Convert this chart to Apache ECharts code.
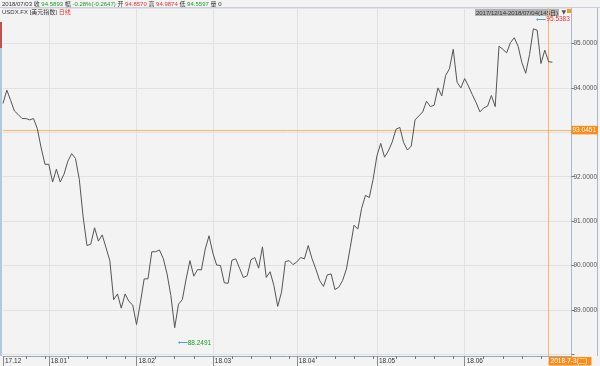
<!DOCTYPE html>
<html><head><meta charset="utf-8">
<script src="https://cdn.jsdelivr.net/npm/echarts@6/dist/echarts.min.js"></script>
<style>html,body{margin:0;padding:0;background:#f3f3f3}#c{width:600px;height:366px}</style>
</head><body><div id="c"></div>
<script>
// ---- data ----
const firstDate = '2017-12-14';
const tradingDays = 145;      // 2017/12/14-2018/07/04 (145日)
const paddingDays = 5;        // empty slots right of the last bar
const closes = [
  93.65, 93.95, 93.72, 93.48, 93.40, 93.31, 93.31, 93.28, 93.31, 93.08,
  92.65, 92.28, 92.28, 91.88, 92.17, 91.88, 92.06, 92.35, 92.52, 92.41,
  91.94, 91.10, 90.45, 90.48, 90.85, 90.55, 90.69, 90.40, 90.11, 89.23,
  89.36, 89.04, 89.36, 89.19, 89.11, 88.67, 89.16, 89.70, 89.70, 90.31,
  90.31, 90.35, 90.16, 89.81, 89.32, 88.60, 89.13, 89.23, 89.70, 90.11,
  89.76, 89.91, 89.90, 90.37, 90.67, 90.28, 90.01, 90.00, 89.61, 89.60,
  90.12, 90.15, 89.94, 89.73, 89.77, 90.13, 90.18, 89.94, 90.42, 89.73,
  89.86, 89.55, 89.08, 89.40, 90.09, 90.11, 90.02, 90.08, 90.18, 90.15,
  90.45, 90.15, 89.92, 89.66, 89.53, 89.79, 89.81, 89.46, 89.51, 89.66,
  89.92, 90.40, 90.91, 90.82, 91.29, 91.58, 91.53, 91.94, 92.47, 92.75,
  92.44, 92.58, 92.78, 93.07, 93.11, 92.77, 92.60, 92.69, 93.28, 93.37,
  93.46, 93.70, 93.58, 93.61, 94.00, 93.82, 94.28, 94.43, 94.87, 94.13,
  94.00, 94.21, 94.04, 93.85, 93.67, 93.46, 93.55, 93.59, 93.83, 93.58,
  94.94, 94.87, 94.79, 95.02, 95.13, 94.94, 94.57, 94.33, 94.75, 95.33,
  95.30, 94.55, 94.85, 94.59, 94.58
];
const monthLabels = ['17.12','18.01','18.02','18.03','18.04','18.05','18.06'];
const yLabelValues = [89, 90, 91, 92, 93, 94, 95];
const refLevel = 93.0451;
const highValue = 95.5383, highIndex = 139;
const lowValue = 88.2491, lowIndex = 45;
const selectedIndex = 143, selectedLabel = '2018-7-3(二)';
const yMin = 87.962, yMax = 95.80;
const header = {date:'2018/07/03', close:'94.5893', chg:'-0.28%(-0.2647)', open:'94.8570', high:'94.9874', low:'94.5597', vol:'0'};
const symbolName = 'USDX.FX [美元指数]', period = '日线';
const rangeText = '2017/12/14-2018/07/04(145日)';

// ---- build categories (weekdays) ----
const dates = [];
{
  let d = new Date(firstDate + 'T00:00:00Z');
  while (dates.length < tradingDays + paddingDays) {
    const wd = d.getUTCDay();
    if (wd !== 0 && wd !== 6) dates.push(d.toISOString().slice(0, 10));
    d = new Date(d.getTime() + 86400000);
  }
}
const monthStart = new Set();
const minorTicks = new Set();
let dayInMonth = 0;
dates.forEach((s, i) => {
  const lbl = s.slice(2, 4) + '.' + s.slice(5, 7);
  if (i === 0 || s.slice(0, 7) !== dates[i - 1].slice(0, 7)) {
    dayInMonth = 0;
    if (monthLabels.includes(lbl)) monthStart.add(i);
  } else dayInMonth++;
  if (i > 2 && i < tradingDays && dayInMonth > 0 && dayInMonth % 5 === 0) minorTicks.add(i);
});
{
  // December 2017: Dec 14 is the 10th trading day of the month
  let k = 9;
  for (let i = 0; i < dates.length && dates[i].startsWith('2017-12'); i++, k++) {
    minorTicks.delete(i);
    if (i > 2 && k % 5 === 0) minorTicks.add(i);
  }
}
const catLabel = (s) => s.slice(2, 4) + '.' + s.slice(5, 7);

const FONT = '"Liberation Sans","Noto Sans CJK SC",sans-serif';
const RED = '#e8342c', GREEN = '#1f9a2a', ORANGE = '#ff8a14';

const chart = echarts.init(document.getElementById('c'), null, {renderer: 'canvas'});
chart.setOption({
  animation: false,
  backgroundColor: '#f3f3f3',
  textStyle: {fontFamily: FONT},
  grid: {left: 3, right: 27, top: 8, bottom: 10, containLabel: false},
  xAxis: [{
    type: 'category', data: dates, boundaryGap: false,
    axisLine: {show: true, lineStyle: {color: '#9aa8b6', width: 1}},
    axisTick: {show: true, length: 10, interval: (i) => monthStart.has(i), lineStyle: {color: '#8a8a8a'}},
    axisLabel: {show: true, interval: (i) => monthStart.has(i), formatter: catLabel,
      align: 'left', padding: [0, 0, 0, 2], margin: 2, fontSize: 6.5, color: '#333', fontFamily: FONT},
    splitLine: {show: true, interval: (i) => monthStart.has(i) && i > 0, lineStyle: {color: '#e1e1e1', width: 1}}
  }, {
    type: 'category', data: dates, boundaryGap: false, gridIndex: 0, position: 'bottom',
    axisLine: {show: false},
    axisTick: {show: true, length: 3, interval: (i) => minorTicks.has(i), lineStyle: {color: '#777'}},
    axisLabel: {show: false}, splitLine: {show: false}
  }],
  yAxis: {
    type: 'value', position: 'right', min: yMin, max: yMax, splitNumber: 8, scale: true,
    axisLine: {show: true, lineStyle: {color: '#a9b9c9'}},
    axisTick: {show: true, length: 3, lineStyle: {color: '#777'}},
    axisLabel: {show: true, margin: 2, fontSize: 6.5, color: '#555', fontFamily: FONT,
      showMinLabel: false, showMaxLabel: false,
      formatter: (v) => yLabelValues.some((t) => Math.abs(t - v) < 1e-6) ? v.toFixed(4) : ''},
    splitLine: {show: true, lineStyle: {color: '#e1e1e1', width: 1}}
  },
  series: [{
    type: 'line', data: closes, showSymbol: false, symbol: 'none',
    lineStyle: {color: '#555', width: 1}, z: 5,
    markLine: {
      silent: true, symbol: 'none', animation: false,
      data: [
        {yAxis: refLevel, lineStyle: {color: '#ffb46a', width: 1, type: 'solid'},
         label: {show: true, position: 'end', distance: 0, formatter: refLevel.toFixed(4),
           backgroundColor: ORANGE, color: '#fff', fontSize: 6.5, padding: [1, 2, 1, 1], fontFamily: FONT}},
        {xAxis: dates[selectedIndex], lineStyle: {color: '#ffb46a', width: 1, type: 'solid'},
         label: {show: true, position: 'start', distance: 1, formatter: selectedLabel, align: 'left',
           backgroundColor: ORANGE, color: '#fff', fontSize: 6.5, padding: [1, 4, 1, 2], fontFamily: FONT}}
      ]
    },
    markPoint: {
      symbol: 'circle', symbolSize: 0, silent: true, animation: false,
      data: [
        {coord: [dates[highIndex], highValue],
         label: {show: true, position: 'right', distance: 3, formatter: '{a|⟵}{v|' + highValue.toFixed(4) + '}',
           rich: {a: {color: '#4aa3c8', fontSize: 7}, v: {color: RED, fontSize: 6.5, fontFamily: FONT}}}},
        {coord: [dates[lowIndex], lowValue],
         label: {show: true, position: 'right', distance: 3, formatter: '{a|⟵}{v|' + lowValue.toFixed(4) + '}',
           rich: {a: {color: '#4aa3c8', fontSize: 7}, v: {color: GREEN, fontSize: 6.5, fontFamily: FONT}}}}
      ]
    }
  }],
  graphic: [
    {type: 'line', shape: {x1: 0, y1: 7.5, x2: 600, y2: 7.5}, style: {stroke: '#c9d2dc', lineWidth: 1}, silent: true},
    {type: 'rect', shape: {x: 0, y: 22, width: 2, height: 26}, style: {fill: '#c0504d'}, silent: true},
    {type: 'rect', shape: {x: 0, y: 48, width: 2, height: 308}, style: {fill: '#b4c8dc'}, silent: true},
    {type: 'line', shape: {x1: 597.5, y1: 8, x2: 597.5, y2: 356}, style: {stroke: '#a9b9c9', lineWidth: 1}, silent: true},
    {type: 'text', left: 2, top: 1, silent: true, style: {
      text: header.date + ' 收 {g|' + header.close + '} 幅 {g|' + header.chg + '} 开 {r|' + header.open +
            '} 高 {r|' + header.high + '} 低 {g|' + header.low + '} 量 ' + header.vol,
      fontSize: 6, fill: '#333', fontFamily: FONT,
      rich: {g: {fill: GREEN, color: GREEN, fontSize: 6, fontFamily: FONT}, r: {fill: RED, color: RED, fontSize: 6, fontFamily: FONT}}}},
    {type: 'text', left: 2, top: 9.5, silent: true, style: {
      text: symbolName + ' {r|' + period + '}', fontSize: 6, fill: '#333', fontFamily: FONT,
      rich: {r: {fill: RED, color: RED, fontSize: 6, fontFamily: FONT}}}},
    {type: 'text', right: 41, top: 9, silent: true, style: {
      text: rangeText, fontSize: 6, fill: '#333', fontFamily: FONT,
      backgroundColor: '#b3b3b3', padding: [1, 1, 0, 1]}},
    {type: 'text', right: 34, top: 9, silent: true, style: {text: '▼', fontSize: 6, fill: '#555', fontFamily: 'DejaVu Sans'}},
    {type: 'rect', right: 29, top: 9, silent: true, shape: {width: 4, height: 4}, style: {fill: '#f0a020'}}
  ]
});
</script></body></html>
